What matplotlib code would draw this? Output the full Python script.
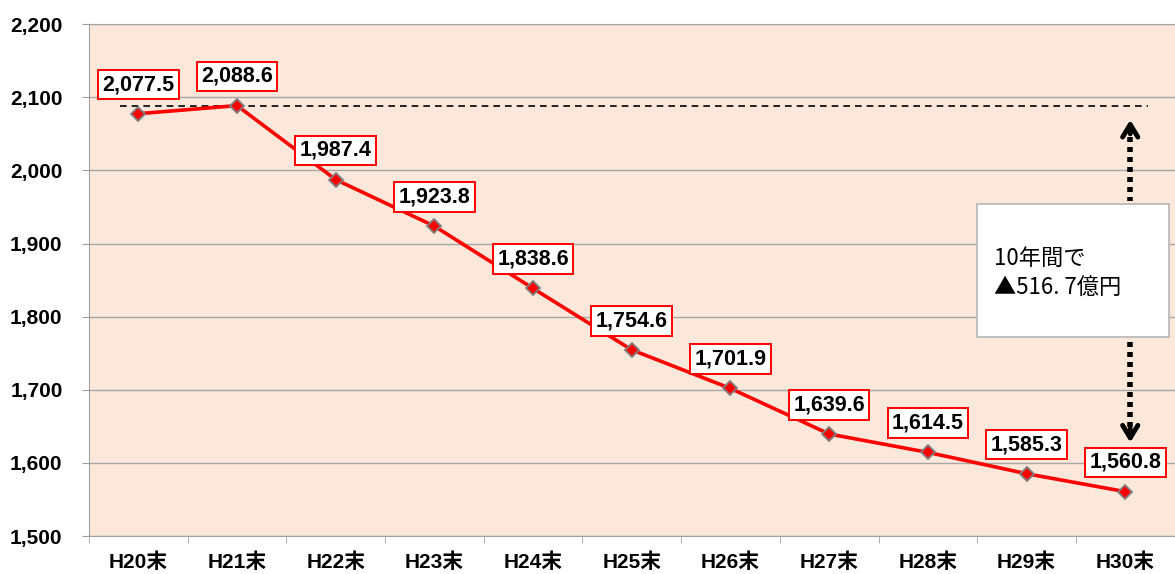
import numpy as np
import matplotlib.pyplot as plt
from matplotlib.patches import Rectangle

plt.rcParams['font.family'] = ['Liberation Sans', 'Noto Sans CJK JP']

years = ['H20末', 'H21末', 'H22末', 'H23末', 'H24末', 'H25末',
         'H26末', 'H27末', 'H28末', 'H29末', 'H30末']
values = [2077.5, 2088.6, 1987.4, 1923.8, 1838.6, 1754.6,
          1701.9, 1639.6, 1614.5, 1585.3, 1560.8]
yticks = [1500, 1600, 1700, 1800, 1900, 2000, 2100, 2200]
note = ['10年間で', '▲516. 7億円']

fig = plt.figure(figsize=(11.75, 5.74), dpi=100)
ax = fig.add_axes([0.0757, 0.066, 0.924, 0.892])
ax.set_facecolor('#fce8da')

x = np.arange(len(years))
ax.plot(x, values, color='#ff0000', lw=2.6, marker='D', ms=7.5,
        mfc='#ff0000', mec='#808080', mew=1.3, zorder=4)

ax.set_xlim(-0.5, len(years) - 0.5)
ax.set_ylim(1500, 2200)
ax.set_yticks(yticks)
ax.set_yticklabels([f'{v:,}' for v in yticks], fontsize=15, fontweight='bold')
ax.set_xticks(x)
ax.set_xticklabels(years, fontsize=15, fontweight='bold')
ax.set_xticks(np.arange(len(years) + 1) - 0.5, minor=True)
ax.tick_params(axis='x', which='major', length=0, pad=12)
ax.tick_params(axis='x', which='minor', length=5, color='#a0a0a0')
ax.tick_params(axis='y', length=5, color='#a0a0a0', pad=14)
ax.grid(axis='y', color='#a6a6a6', lw=1)
ax.set_axisbelow(True)
ax.spines['right'].set_visible(False)
for s in ['left', 'top', 'bottom']:
    ax.spines[s].set_color('#a0a0a0')

# data labels
for i, v in enumerate(values):
    ax.annotate(f'{v:,.1f}', (i, v), xytext=(0, 21), textcoords='offset points',
                ha='center', va='center', fontsize=15.5, fontweight='bold',
                bbox=dict(boxstyle='square,pad=0.2', fc='white', ec='#ff0000', lw=1.4),
                zorder=5)

# reference line at the peak
ax.plot([-0.19, 10.23], [values[1], values[1]], color='black', ls=(0, (4, 3)), lw=1.2, zorder=3)

# dotted double arrow
arr_x = 10.05
dot = dict(color='black', lw=4, ls=(0, (0.9, 0.9)), solid_capstyle='butt', zorder=3)
ax.plot([arr_x, arr_x], [2060, 1958], **dot)
ax.plot([arr_x, arr_x], [1766, 1640], **dot)
head = dict(arrowstyle='->,head_length=0.9,head_width=0.55', lw=3.5, color='black',
            shrinkA=0, shrinkB=0)
ax.annotate('', xy=(arr_x, 2069), xytext=(arr_x, 2050), arrowprops=head, zorder=4)
ax.annotate('', xy=(arr_x, 1628), xytext=(arr_x, 1647), arrowprops=head, zorder=4)

ax.add_patch(Rectangle((8.5, 1772), 1.94, 182, fc='white', ec='#bbbbbb', lw=1.3, zorder=6))
ax.text(8.67, 1880, note[0], fontsize=16, va='center', ha='left', zorder=7,
        family='Noto Sans CJK JP')
ax.text(8.67, 1840, note[1], fontsize=16, va='center', ha='left', zorder=7,
        family='Noto Sans CJK JP')

fig.savefig('out.png', dpi=100)
